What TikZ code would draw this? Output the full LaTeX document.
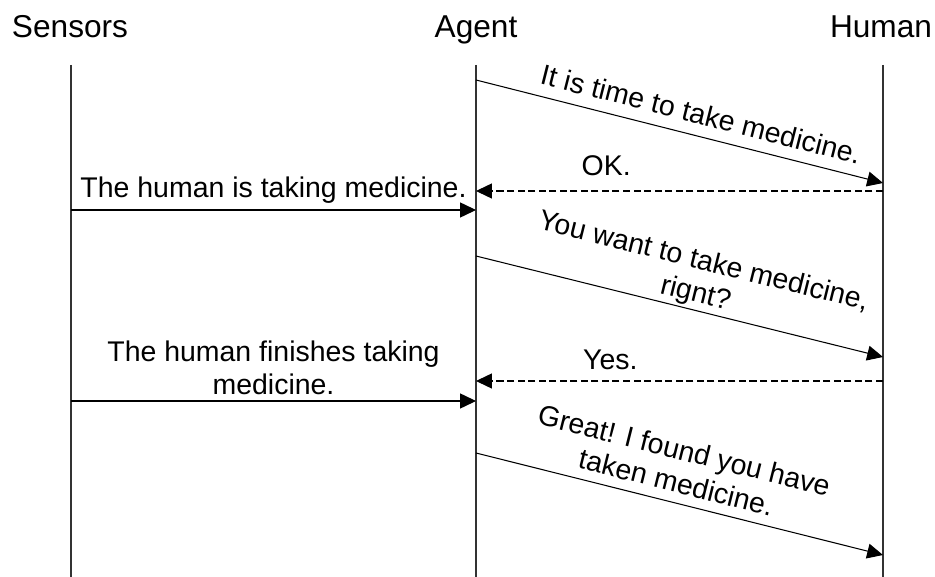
\documentclass[tikz,border=0pt]{standalone}
\usepackage{fontspec}
\setmainfont{Liberation Sans}
\usetikzlibrary{arrows.meta}
\tikzset{>={Triangle[length=9pt,width=8.5pt]}}
\tikzset{
    head/.style={font=\fontsize{18}{21}\selectfont, anchor=base},
    lbl/.style={font=\fontsize{16.2}{18.7}\selectfont, align=center},
    msg/.style={->, line width=0.6pt},
    reply/.style={->, line width=0.6pt, dash pattern=on 4pt off 2pt},
    lifeline/.style={line width=0.6pt, black!80}
}

\begin{document}
\begin{tikzpicture}[x=0.02cm, y=-0.02cm]
    \useasboundingbox (0,0) rectangle (935,577);
    \node[head] (sensors) at (70,38) {Sensors};
    \node[head] (agent) at (476,38) {Agent};
    \node[head] (human) at (881,38) {Human};
    % lifelines
    \foreach \n/\x in {s/71,a/476,h/883} {
        \coordinate (\n top) at (\x,65);
        \coordinate (\n bot) at (\x,577);
        \draw[lifeline] (\n top) -- (\n bot);
    }
    % message end points
    \coordinate (a1) at (476,80);  \coordinate (h1) at (883,183);
    \coordinate (h2) at (883,191); \coordinate (a2) at (476,191);
    \coordinate (s3) at (71,210);  \coordinate (a3) at (476,210);
    \coordinate (a4) at (476,256); \coordinate (h4) at (883,357);
    \coordinate (h5) at (883,381); \coordinate (a5) at (476,381);
    \coordinate (s6) at (71,401);  \coordinate (a6) at (476,401);
    \coordinate (a7) at (476,453); \coordinate (h7) at (883,555);
    % messages
    \draw[msg] (a1) -- node[lbl, pos=0.54, sloped, above=3pt] {It is time to take medicine.} (h1);
    \draw[reply] (h2) -- node[lbl, pos=0.68, above=5pt] {OK.} (a2);
    \draw[msg] (s3) -- node[lbl, midway, above] {The human is taking medicine.} (a3);
    \draw[msg] (a4) -- node[lbl, pos=0.53, sloped, above, inner sep=1pt] {You want to take medicine,\\ rignt?} (h4);
    \draw[reply] (h5) -- node[lbl, pos=0.67, above=3pt] {Yes.} (a5);
    \draw[msg] (s6) -- node[lbl, midway, above] {The human finishes taking\\ medicine.} (a6);
    \draw[msg] (a7) -- node[lbl, pos=0.48, sloped, above=2pt] {Great! I found you have\\ taken medicine.} (h7);
\end{tikzpicture}
\end{document}
